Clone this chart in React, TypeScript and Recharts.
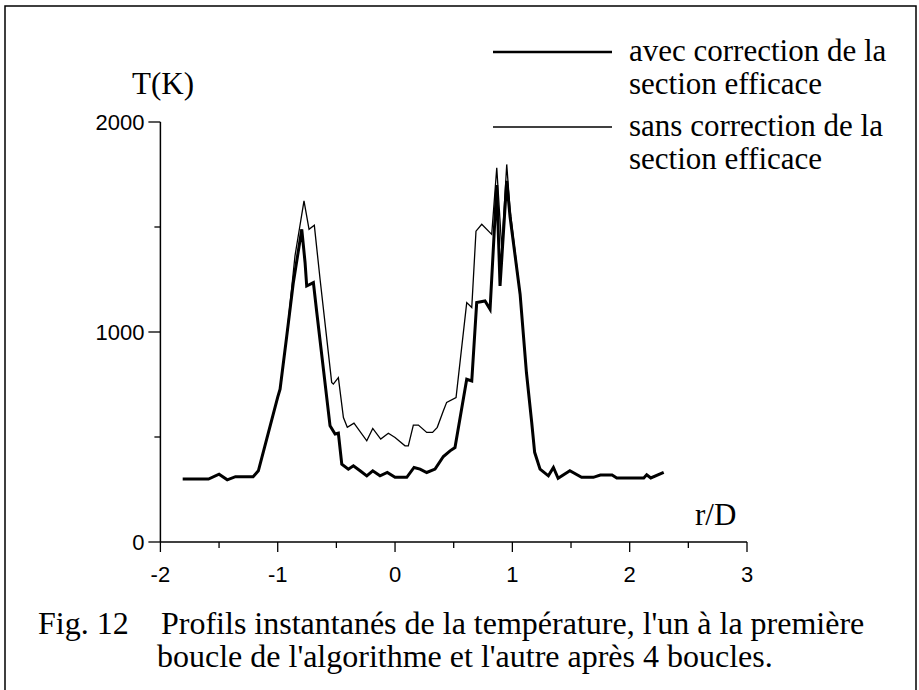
import React from 'react';
import { LineChart, Line, XAxis, YAxis, Legend } from 'recharts';

// profil "avec correction de la section efficace" (trait épais)
const rAvec = [
  -1.81, -1.59, -1.5, -1.43, -1.36, -1.21, -1.165, -1.094, -1.0, -0.98, -0.923, -0.867, -0.795,
  -0.767, -0.753, -0.696, -0.667, -0.554, -0.511, -0.483, -0.454, -0.398, -0.355, -0.298, -0.241,
  -0.19, -0.128, -0.066, 0.0, 0.1, 0.162, 0.213, 0.27, 0.341, 0.412, 0.469, 0.511, 0.611, 0.654,
  0.696, 0.767, 0.81, 0.867, 0.895, 0.952, 0.98, 1.066, 1.12, 1.165, 1.19, 1.236, 1.307, 1.35,
  1.39, 1.49, 1.59, 1.69, 1.75, 1.85, 1.89, 2.12, 2.145, 2.18, 2.29,
];
const tAvec = [
  300, 300, 323, 296, 311, 311, 339, 490, 690, 728, 981, 1235, 1489,
  1331, 1219, 1235, 1093, 553, 514, 518, 371, 347, 363, 339, 315,
  339, 315, 331, 308, 308, 355, 347, 331, 347, 407, 434, 450, 775, 767,
  1140, 1148, 1108, 1700, 1219, 1720, 1550, 1180, 807, 569, 427, 347, 315, 355,
  303, 339, 308, 308, 319, 319, 305, 305, 320, 305, 331,
];

// profil "sans correction de la section efficace" (trait fin)
const rSans = [
  -0.923, -0.853, -0.776, -0.733, -0.688, -0.639, -0.54, -0.526, -0.483, -0.44, -0.407, -0.35,
  -0.241, -0.19, -0.122, -0.057, 0.0, 0.085, 0.113, 0.156, 0.199, 0.27, 0.32, 0.36, 0.412, 0.44,
  0.52, 0.611, 0.654, 0.69, 0.739, 0.824, 0.867, 0.91, 0.952, 0.98, 1.066, 1.12, 1.165, 1.19,
];
const tSans = [
  981, 1362, 1624, 1489, 1508, 1251, 760, 752, 783, 593, 546, 566,
  482, 541, 490, 518, 498, 458, 458, 557, 557, 522, 522, 546, 625, 665,
  688, 1140, 1117, 1480, 1513, 1465, 1782, 1394, 1798, 1584, 1180, 807, 569, 427,
];

const xTicks = [-2, -1.5, -1, -0.5, 0, 0.5, 1, 1.5, 2, 2.5, 3];
const yTicks = [0, 500, 1000, 1500, 2000];
const xLabels = [-2, -1, 0, 1, 2, 3];
const yLabels = [0, 1000, 2000];

const nomAvec = ['avec correction de la', 'section efficace'];
const nomSans = ['sans correction de la', 'section efficace'];

const avec = rAvec.map((r, i) => ({ r, T: tAvec[i] }));
const sans = rSans.map((r, i) => ({ r, T: tSans[i] }));

const serif = '"Liberation Serif", "Times New Roman", serif';
const sansFont = '"Liberation Sans", Arial, sans-serif';

const XTick = ({ x, y, payload }: any) => {
  const v = payload.value;
  const major = xLabels.includes(v);
  return (
    <g>
      <line x1={x} y1={y} x2={x} y2={y + (major ? 10 : 6)} stroke="#000" strokeWidth={1.3} />
      {major && (
        <text x={x} y={y + 40} textAnchor="middle" fontFamily={sansFont} fontSize={22} fill="#000">
          {v}
        </text>
      )}
    </g>
  );
};

const YTick = ({ x, y, payload }: any) => {
  const v = payload.value;
  const major = yLabels.includes(v);
  return (
    <g>
      <line x1={x} y1={y} x2={x - (major ? 12 : 6)} y2={y} stroke="#000" strokeWidth={1.3} />
      {major && (
        <text x={x - 16} y={y + 8} textAnchor="end" fontFamily={sansFont} fontSize={22} fill="#000">
          {v}
        </text>
      )}
    </g>
  );
};

const LegendBox = () => {
  const rows = [
    { lines: nomAvec, w: 2.4, y: 52 },
    { lines: nomSans, w: 1.3, y: 127 },
  ];
  return (
    <svg width={919} height={200} style={{ position: 'absolute', left: 0, top: 0 }}>
      {rows.map((row, i) => (
        <g key={i}>
          <line x1={493} x2={612} y1={row.y} y2={row.y} stroke="#000" strokeWidth={row.w} />
          {row.lines.map((t, j) => (
            <text key={j} x={629} y={row.y + 9 + j * 33} fontFamily={serif} fontSize={31} fill="#000">
              {t}
            </text>
          ))}
        </g>
      ))}
    </svg>
  );
};

export default function App() {
  return (
    <div style={{ position: 'absolute', left: 0, top: 0, width: 919, height: 690, background: '#fff' }}>
      <LineChart width={919} height={690} margin={{ top: 122, right: 172, bottom: 108, left: 100 }}>
        <XAxis
          type="number"
          dataKey="r"
          domain={[-2, 3]}
          ticks={xTicks}
          allowDataOverflow
          height={40}
          tickSize={0}
          tickMargin={0}
          tickLine={false}
          axisLine={{ stroke: '#000', strokeWidth: 1.5 }}
          tick={<XTick />}
          interval={0}
        />
        <YAxis
          type="number"
          dataKey="T"
          domain={[0, 2000]}
          ticks={yTicks}
          width={60.4}
          tickSize={0}
          tickMargin={0}
          tickLine={false}
          axisLine={{ stroke: '#000', strokeWidth: 1.5 }}
          tick={<YTick />}
          interval={0}
        />
        <Legend
          content={() => <LegendBox />}
          wrapperStyle={{ position: 'absolute', left: 0, top: 0, width: 919, height: 0 }}
        />
        <Line
          data={sans}
          dataKey="T"
          type="linear"
          stroke="#000"
          strokeWidth={1.3}
          dot={false}
          isAnimationActive={false}
        />
        <Line
          data={avec}
          dataKey="T"
          type="linear"
          stroke="#000"
          strokeWidth={3}
          dot={false}
          isAnimationActive={false}
        />
      </LineChart>
      <svg
        width={919}
        height={690}
        style={{ position: 'absolute', left: 0, top: 0, pointerEvents: 'none' }}
      >
        <rect x={5} y={6} width={911} height={720} fill="none" stroke="#000" strokeWidth={1.5} />
        <text x={132} y={94} fontFamily={serif} fontSize={31} fill="#000">T(K)</text>
        <text x={695} y={525} fontFamily={serif} fontSize={31} fill="#000">r/D</text>
        <text x={38} y={634} fontFamily={serif} fontSize={32} fill="#000">Fig. 12</text>
        <text x={161} y={634} fontFamily={serif} fontSize={32} fill="#000">
          Profils instantanés de la température, l'un à la première
        </text>
        <text x={157} y={667} fontFamily={serif} fontSize={32} fill="#000">
          boucle de l'algorithme et l'autre après 4 boucles.
        </text>
      </svg>
    </div>
  );
}
